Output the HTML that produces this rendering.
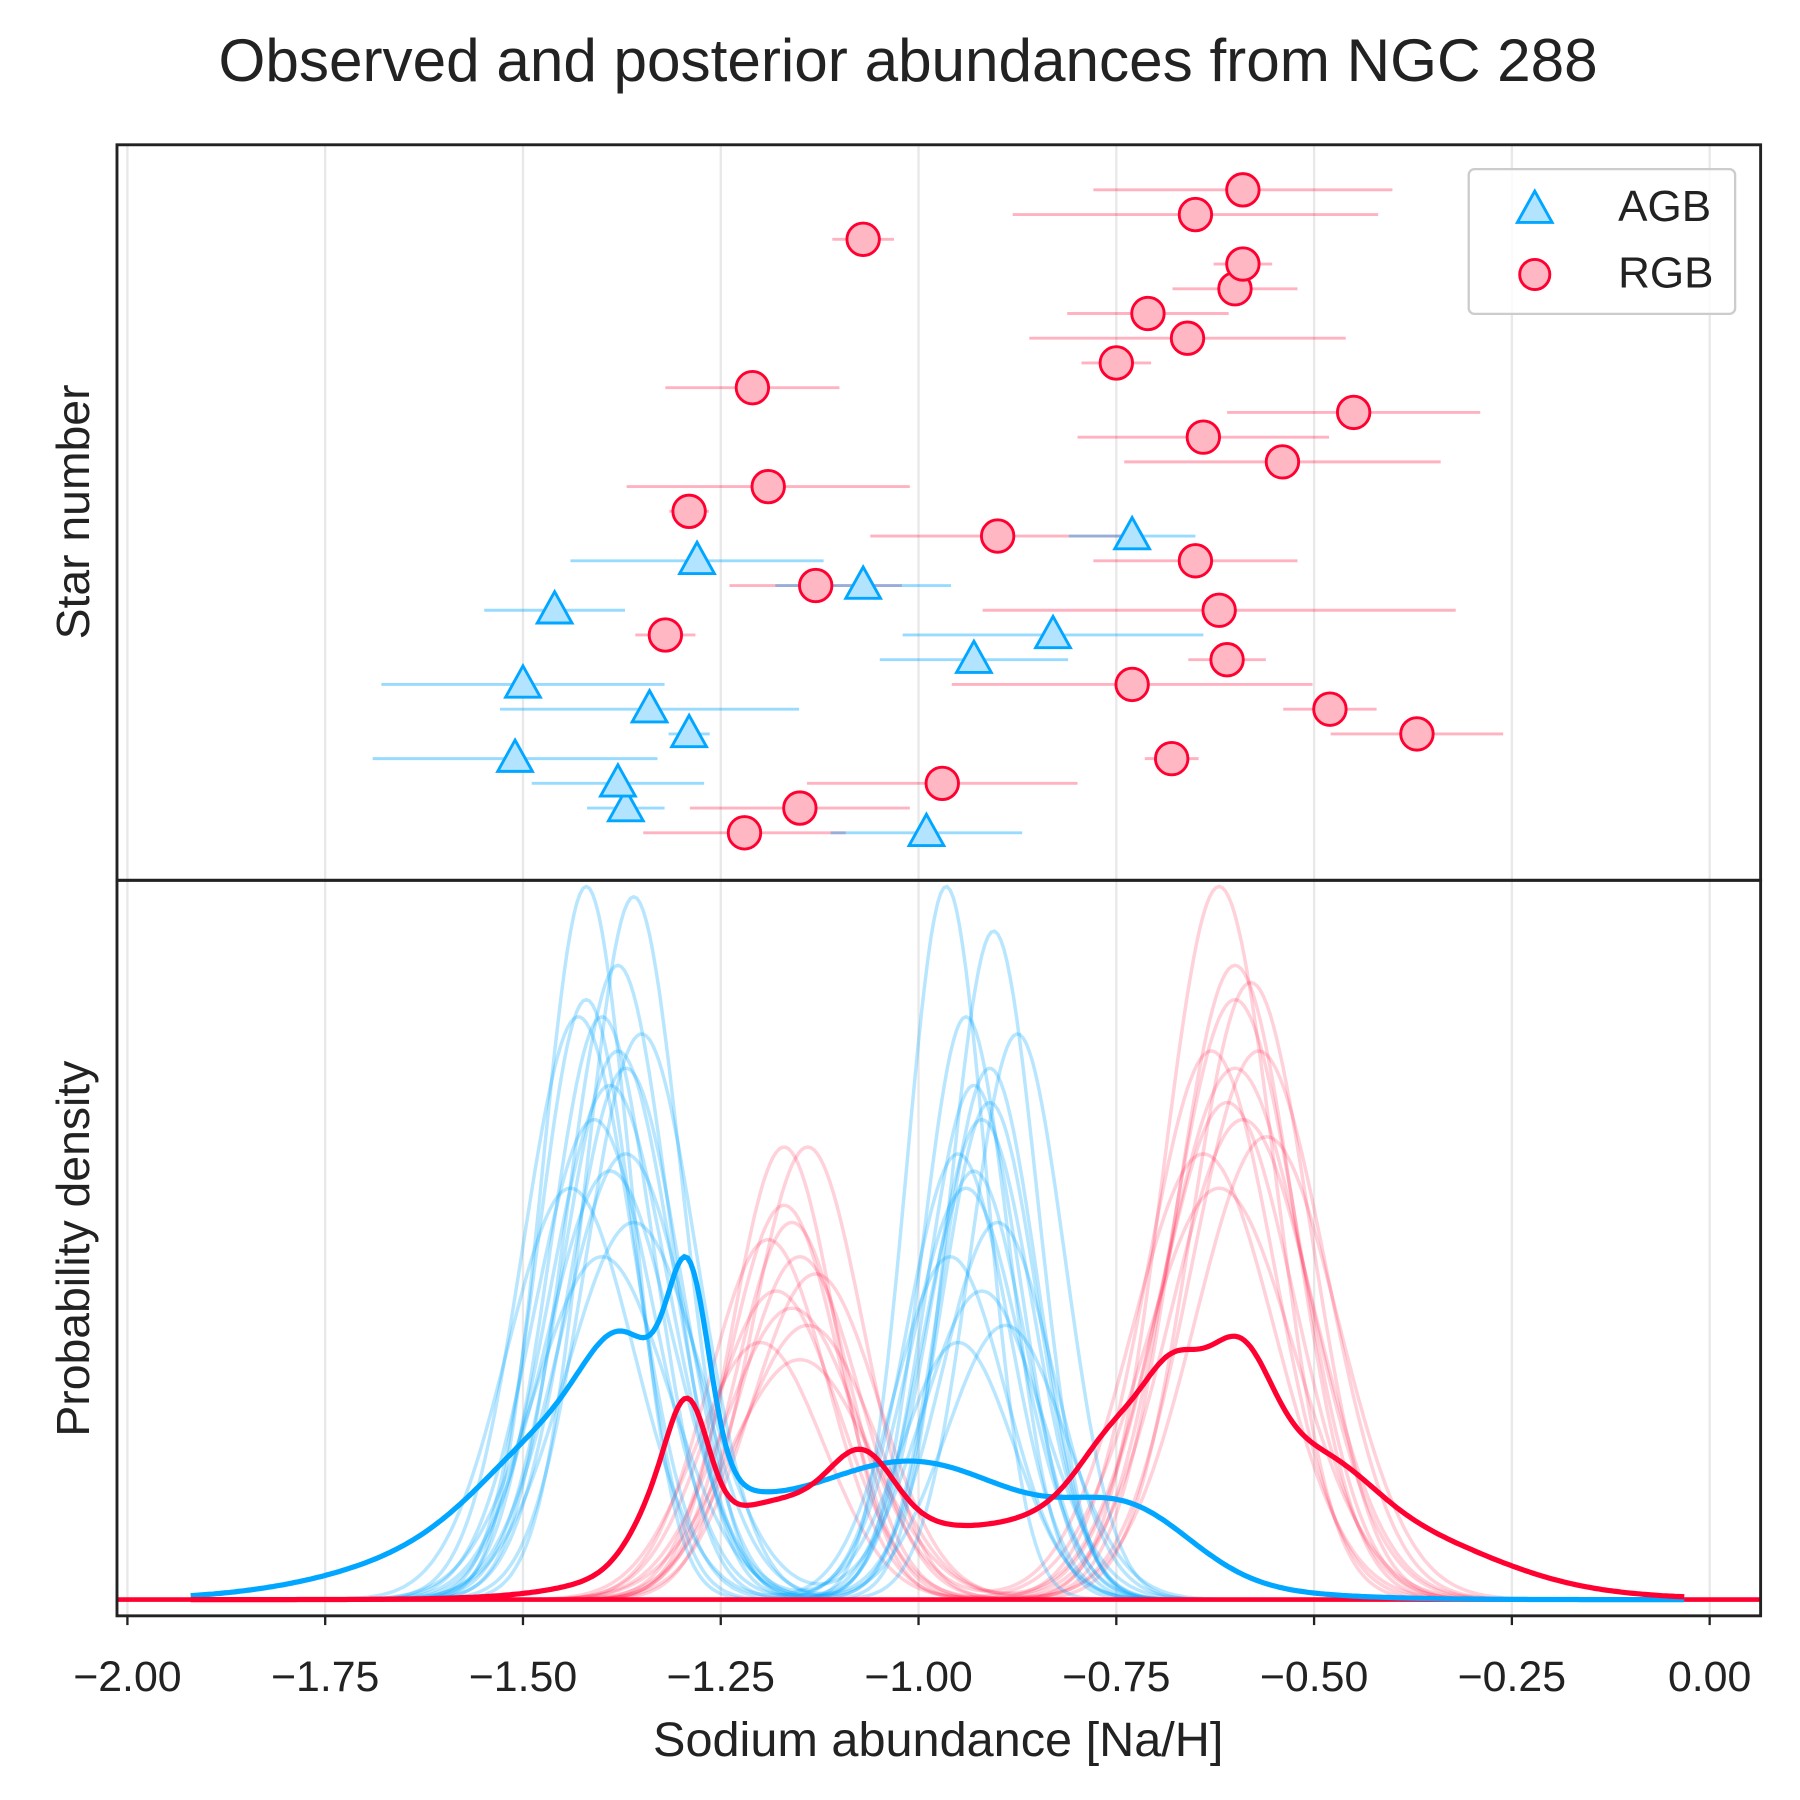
<!DOCTYPE html>
<html><head><meta charset="utf-8"><style>
html,body{margin:0;padding:0;background:#fff}
svg{display:block}
text{font-family:"Liberation Sans",Arial,sans-serif;fill:#222}
</style></head><body>
<svg id="chart" width="1800" height="1800" viewBox="0 0 1554 1554" xmlns="http://www.w3.org/2000/svg">
<defs><clipPath id="cb"><rect x="101" y="760" width="1419" height="635"/></clipPath></defs>
<rect width="1554" height="1554" fill="#fff"/>
<text x="784" y="70" font-size="52" text-anchor="middle">Observed and posterior abundances from NGC 288</text>
<g id="grid"></g>
<g id="topPanel"></g>
<g id="bottomPanel" clip-path="url(#cb)"></g>
<rect x="101" y="125" width="1419" height="635" fill="none" stroke="#222" stroke-width="2.5"/>
<rect x="101" y="760" width="1419" height="635" fill="none" stroke="#222" stroke-width="2.5"/>
<g id="xticks"></g>
<text x="810" y="1516" font-size="42" text-anchor="middle">Sodium abundance [Na/H]</text>
<text transform="translate(77,442) rotate(-90)" font-size="40" text-anchor="middle">Star number</text>
<text transform="translate(77,1078) rotate(-90)" font-size="40" text-anchor="middle">Probability density</text>
<g>
<rect x="1268" y="146" width="230" height="125" rx="5" fill="#fff" fill-opacity="0.8" stroke="#ccc" stroke-width="2"/>
<polygon points="1325,165 1340,192 1310,192" fill="#b3e4ff" stroke="#00a6ff" stroke-width="2.5"/>
<text x="1397" y="191" font-size="38">AGB</text>
<circle cx="1325" cy="237" r="13" fill="#ffb8c3" stroke="#ff0030" stroke-width="2.5"/>
<text x="1397" y="248" font-size="38">RGB</text>
</g>
</svg>
<script>
const rgbRow=[0,1,2,3,4,5,6,7,8,9,10,11,12,13,14,15,16,17,18,19,20,21,22,23,24,25,26];
const rgbVal=[-1.22,-1.15,-0.97,-0.68,-0.37,-0.48,-0.73,-0.61,-1.32,-0.62,-1.13,-0.65,-0.90,-1.29,-1.19,-0.54,-0.64,-0.45,-1.21,-0.75,-0.66,-0.71,-0.60,-0.59,-1.07,-0.65,-0.59];
const rgbErr=[0.128,0.139,0.171,0.034,0.109,0.059,0.228,0.049,0.038,0.299,0.109,0.129,0.161,0.025,0.179,0.200,0.159,0.160,0.110,0.044,0.200,0.102,0.079,0.037,0.039,0.231,0.189];
const agbRow=[0,1,2,3,4,5,6,7,8,9,10,11,12];
const agbVal=[-0.99,-1.37,-1.38,-1.51,-1.29,-1.34,-1.50,-0.93,-0.83,-1.46,-1.07,-1.28,-0.73];
const agbErr=[0.121,0.049,0.109,0.180,0.026,0.189,0.179,0.119,0.190,0.089,0.111,0.160,0.080];
const agbMu1=[-1.42,-1.36,-1.40,-1.38,-1.43,-1.35,-1.39,-1.41,-1.37,-1.44,-1.36,-1.40,-1.38,-1.42,-1.37,-1.39];
const agbSd1=[0.055,0.06,0.065,0.07,0.07,0.07,0.075,0.075,0.08,0.08,0.085,0.085,0.065,0.06,0.07,0.08];
const agbA1=[2.08,2.05,1.7,1.6,1.7,1.65,1.5,1.4,1.3,1.2,1.1,1.0,1.85,1.75,1.55,1.25];
const agbMu2=[-0.965,-0.905,-0.875,-0.93,-0.95,-0.91,-0.92,-0.94,-0.90,-0.96,-0.92,-0.89,-0.94,-0.91,-0.93,-0.95];
const agbSd2=[0.05,0.055,0.06,0.06,0.065,0.06,0.065,0.07,0.07,0.07,0.075,0.075,0.055,0.06,0.065,0.07];
const agbA2=[2.08,1.95,1.65,1.5,1.3,1.45,1.4,1.2,1.1,1.0,0.9,0.8,1.7,1.55,1.25,0.75];
const rgbMu1=[-1.17,-1.14,-1.16,-1.19,-1.15,-1.13,-1.18,-1.16,-1.14,-1.20,-1.17,-1.15];
const rgbSd1=[0.065,0.07,0.07,0.075,0.075,0.08,0.08,0.085,0.085,0.08,0.07,0.09];
const rgbA1=[1.32,1.32,1.1,1.05,1.0,0.95,0.9,0.85,0.8,0.75,1.15,0.7];
const rgbMu2=[-0.62,-0.58,-0.60,-0.63,-0.57,-0.61,-0.59,-0.64,-0.60,-0.62,-0.60,-0.56];
const rgbSd2=[0.07,0.075,0.08,0.08,0.085,0.085,0.09,0.09,0.09,0.095,0.075,0.09];
const rgbA2=[2.08,1.8,1.75,1.6,1.6,1.45,1.4,1.3,1.55,1.2,1.85,1.35];
const xTicks=[-2.00,-1.75,-1.50,-1.25,-1.00,-0.75,-0.50,-0.25,0.00];

const NS='http://www.w3.org/2000/svg';
const X=v=>110+(v+2)*683;
const YT=i=>719-i*21.35;
const BASE=1381;
function mk(tag,attrs,parent){const e=document.createElementNS(NS,tag);for(const k in attrs)e.setAttribute(k,attrs[k]);parent.appendChild(e);return e;}
const gridG=document.getElementById('grid'),topG=document.getElementById('topPanel'),botG=document.getElementById('bottomPanel'),xtG=document.getElementById('xticks');

xTicks.forEach(t=>{
  const gl=mk('line',{x1:X(t),x2:X(t),y1:125,y2:1395,stroke:'#e8e8e8','stroke-width':2},gridG);
  
  
  const tk=mk('line',{x1:X(t),x2:X(t),y1:1395,y2:1403,stroke:'#222','stroke-width':2},xtG);
  
  
  const lb=mk('text',{x:X(t),y:1460,'font-size':37,'text-anchor':'middle'},xtG);
  lb.textContent=(t<0?'\u2212':'')+Math.abs(t).toFixed(2);
  
  
});

rgbVal.forEach((v,i)=>{const e=mk('line',{x1:X(v-rgbErr[i]),x2:X(v+rgbErr[i]),y1:YT(rgbRow[i]),y2:YT(rgbRow[i]),stroke:'rgba(255,0,48,0.3)','stroke-width':2.5},topG);
  
  });
agbVal.forEach((v,i)=>{const e=mk('line',{x1:X(v-agbErr[i]),x2:X(v+agbErr[i]),y1:YT(agbRow[i]),y2:YT(agbRow[i]),stroke:'rgba(0,166,255,0.4)','stroke-width':2.5},topG);
  
  });
rgbVal.forEach((v,i)=>{const c=mk('circle',{cx:X(v),cy:YT(rgbRow[i]),r:14,fill:'#ffb8c3',stroke:'#ff0030','stroke-width':2.5},topG);
  
  });
agbVal.forEach((v,i)=>{const x=X(v),y=YT(agbRow[i]);
  const p=mk('polygon',{points:`${x},${y-16} ${x+15},${y+11} ${x-15},${y+11}`,fill:'#b3e4ff',stroke:'#00a6ff','stroke-width':2.5},topG);
  
  });

const gauss=(x,m,s)=>Math.exp(-0.5*((x-m)/s)**2)/(s*Math.sqrt(2*Math.PI));
const xs=[];for(let v=-1.92;v<=-0.029;v+=0.004)xs.push(v);
const kde=(vals,errs)=>xs.map(x=>vals.reduce((a,m,i)=>a+gauss(x,m,errs[i]),0)/vals.length);
const kb=kde(agbVal,agbErr),kr=kde(rgbVal,rgbErr);
const maxB=Math.max(...kb);
const S=296/maxB;
const pathD=ys=>xs.map((x,i)=>(i?'L':'M')+X(x).toFixed(1)+','+(BASE-ys[i]).toFixed(1)).join('');
function samples(m1,s1,a1,m2,s2,a2,col,name){
  m1.forEach((_,k)=>{
    const ys=xs.map(x=>296*(a1[k]*Math.exp(-0.5*((x-m1[k])/s1[k])**2)+a2[k]*Math.exp(-0.5*((x-m2[k])/s2[k])**2)));
    const p=mk('path',{d:pathD(ys),fill:'none',stroke:col,'stroke-width':3},botG);
    
    
  });
}
samples(rgbMu1,rgbSd1,rgbA1,rgbMu2,rgbSd2,rgbA2,'rgba(255,0,48,0.18)','rgb-posterior-sample');
samples(agbMu1,agbSd1,agbA1,agbMu2,agbSd2,agbA2,'rgba(0,166,255,0.28)','agb-posterior-sample');
const bl=mk('line',{x1:101,x2:1520,y1:BASE,y2:BASE,stroke:'#ff0030','stroke-width':4},botG);


const pb=mk('path',{d:pathD(kb.map(v=>v*S)),fill:'none',stroke:'#00a6ff','stroke-width':4.5},botG);


const pr=mk('path',{d:pathD(kr.map(v=>v*S)),fill:'none',stroke:'#ff0030','stroke-width':4.5},botG);


</script>
</body></html>
